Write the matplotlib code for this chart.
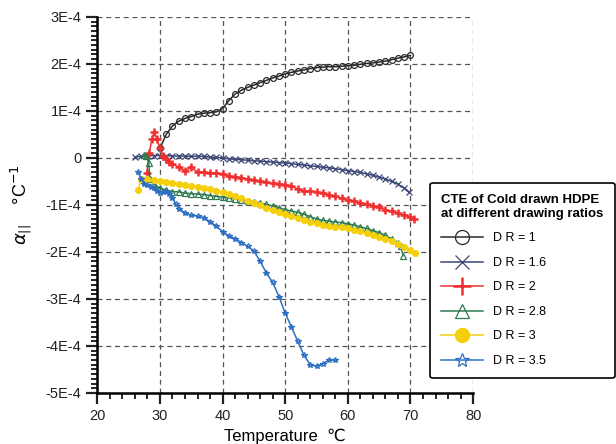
#!/usr/bin/env python3
import matplotlib
matplotlib.use("Agg")
import matplotlib.pyplot as plt
from matplotlib.ticker import MultipleLocator, FuncFormatter
import numpy as np

plt.rcParams["font.family"] = ["Liberation Sans", "DejaVu Sans"]

# values in units of 1E-4 per degC
t_dr1 = [30, 31, 32, 33, 34, 35, 36, 37, 38, 39, 40, 41, 42, 43, 44, 45, 46, 47, 48, 49,
         50, 51, 52, 53, 54, 55, 56, 57, 58, 59, 60, 61, 62, 63, 64, 65, 66, 67, 68, 69, 70]
a_dr1 = [0.2, 0.5, 0.68, 0.78, 0.84, 0.88, 0.93, 0.95, 0.96, 0.98, 1.05, 1.22, 1.36, 1.44,
         1.5, 1.55, 1.6, 1.65, 1.7, 1.74, 1.79, 1.82, 1.85, 1.87, 1.9, 1.92, 1.93, 1.94,
         1.94, 1.95, 1.96, 1.97, 1.99, 2.01, 2.02, 2.04, 2.06, 2.09, 2.12, 2.15, 2.18]

t_dr16 = [26, 27, 28, 29, 30, 31, 32, 33, 34, 35, 36, 37, 38, 39, 40, 41, 42, 43, 44, 45,
          46, 47, 48, 49, 50, 51, 52, 53, 54, 55, 56, 57, 58, 59, 60, 61, 62, 63, 64, 65,
          66, 67, 68, 69, 69.7]
a_dr16 = [0.02, 0.03, 0.05, 0.05, 0.05, 0.05, 0.04, 0.04, 0.04, 0.03, 0.04, 0.03, 0.02,
          0.01, 0.0, -0.02, -0.03, -0.04, -0.05, -0.06, -0.07, -0.08, -0.09, -0.1, -0.11,
          -0.12, -0.14, -0.15, -0.17, -0.18, -0.2, -0.21, -0.23, -0.25, -0.27, -0.29,
          -0.31, -0.34, -0.37, -0.41, -0.45, -0.5, -0.56, -0.64, -0.72]

t_dr2 = [27.9, 28.3, 28.7, 29.1, 29.5, 30, 30.5, 31, 31.5, 32, 33, 34, 35, 36, 37, 38, 39,
         40, 41, 42, 43, 44, 45, 46, 47, 48, 49, 50, 51, 52, 53, 54, 55, 56, 57, 58, 59,
         60, 61, 62, 63, 64, 65, 66, 67, 68, 69, 70, 70.6]
a_dr2 = [-0.32, 0.1, 0.4, 0.55, 0.4, 0.2, 0.05, -0.02, -0.08, -0.12, -0.2, -0.28, -0.2,
         -0.3, -0.3, -0.33, -0.32, -0.34, -0.38, -0.4, -0.42, -0.45, -0.47, -0.5, -0.52,
         -0.54, -0.55, -0.57, -0.6, -0.66, -0.7, -0.71, -0.72, -0.75, -0.79, -0.82, -0.86,
         -0.89, -0.92, -0.95, -0.98, -1.02, -1.05, -1.1, -1.14, -1.18, -1.22, -1.25, -1.29]

t_dr28 = [27.4, 27.8, 28.2, 28.4, 29, 30, 31, 32, 33, 34, 35, 36, 37, 38, 39, 40, 41, 42,
          43, 44, 45, 46, 47, 48, 49, 50, 51, 52, 53, 54, 55, 56, 57, 58, 59, 60, 61, 62,
          63, 64, 65, 66, 67, 68, 68.5, 68.8]
a_dr28 = [0.06, 0.04, -0.1, -0.45, -0.55, -0.65, -0.68, -0.72, -0.72, -0.75, -0.76, -0.77,
          -0.78, -0.8, -0.82, -0.83, -0.85, -0.87, -0.89, -0.91, -0.93, -0.96, -0.99,
          -1.02, -1.06, -1.1, -1.13, -1.16, -1.2, -1.25, -1.3, -1.33, -1.35, -1.36, -1.38,
          -1.4, -1.43, -1.47, -1.5, -1.55, -1.59, -1.65, -1.72, -1.8, -1.88, -2.08]

t_dr3 = [26.5, 27, 28, 29, 30, 31, 32, 33, 34, 35, 36, 37, 38, 39, 40, 41, 42, 43, 44, 45,
         46, 47, 48, 49, 50, 51, 52, 53, 54, 55, 56, 57, 58, 59, 60, 61, 62, 63, 64, 65,
         66, 67, 68, 69, 70, 70.8]
a_dr3 = [-0.68, -0.45, -0.45, -0.47, -0.49, -0.51, -0.53, -0.55, -0.57, -0.59, -0.62,
         -0.64, -0.67, -0.7, -0.73, -0.77, -0.81, -0.86, -0.91, -0.96, -1.01, -1.06,
         -1.11, -1.16, -1.2, -1.24, -1.28, -1.32, -1.36, -1.39, -1.42, -1.44, -1.46,
         -1.48, -1.5, -1.53, -1.56, -1.6, -1.64, -1.68, -1.72, -1.77, -1.83, -1.9, -1.96,
         -2.02]

t_dr35 = [26.5, 27, 27.5, 28, 28.5, 29, 29.5, 30, 30.5, 31, 31.5, 32, 32.5, 33, 34, 35,
          36, 37, 38, 39, 40, 41, 42, 43, 44, 45, 46, 47, 48, 49, 50, 51, 52, 53, 54, 55,
          56, 57, 58]
a_dr35 = [-0.3, -0.45, -0.55, -0.58, -0.62, -0.64, -0.7, -0.75, -0.73, -0.7, -0.76, -0.85,
          -0.98, -1.08, -1.17, -1.22, -1.24, -1.27, -1.36, -1.45, -1.57, -1.66, -1.72,
          -1.8, -1.88, -1.98, -2.2, -2.45, -2.65, -2.95, -3.3, -3.6, -3.9, -4.2, -4.4,
          -4.43, -4.38, -4.3, -4.3]

series = [
    (t_dr1, a_dr1, "D R = 1", "#2a2a2a", "o", "none"),
    (t_dr16, a_dr16, "D R = 1.6", "#3b4775", "x", "#3b4775"),
    (t_dr2, a_dr2, "D R = 2", "#f03030", "+", "#f03030"),
    (t_dr28, a_dr28, "D R = 2.8", "#2f7a4e", "^", "none"),
    (t_dr3, a_dr3, "D R = 3", "#f4cf0a", "o", "#f4cf0a"),
    (t_dr35, a_dr35, "D R = 3.5", "#2c6fc2", "*", "none"),
]

fig = plt.figure(figsize=(6.16, 4.44), dpi=100)
ax = fig.add_axes([0.158, 0.115, 0.61, 0.847])

for t, a, lab, c, m, fc in series:
    mew = 1.8 if m == "+" else 0.9
    ms = 5.5 if m == "+" else 4.2
    ax.plot(t, np.array(a) * 1e-4, color=c, lw=1.1, marker=m, ms=ms,
            mfc=fc, mec=c, mew=mew, label=lab)

ax.set_xlim(20, 80)
ax.set_ylim(-5e-4, 3e-4)
ax.xaxis.set_major_locator(MultipleLocator(10))
ax.xaxis.set_minor_locator(MultipleLocator(2))
ax.yaxis.set_major_locator(MultipleLocator(1e-4))
ax.yaxis.set_minor_locator(MultipleLocator(1e-5))
ax.yaxis.set_major_formatter(FuncFormatter(
    lambda v, p: "0" if abs(v) < 1e-9 else "%dE-4" % round(v * 1e4)))

for s in ["top", "right"]:
    ax.spines[s].set_visible(False)
for s in ["left", "bottom"]:
    ax.spines[s].set_linewidth(1.8)
ax.tick_params(which="major", length=8, width=1.6, labelsize=10.5, colors="#222222")
ax.tick_params(which="minor", length=4, width=1.2)
ax.grid(True, which="major", ls=(0, (4, 3)), color="#555555", lw=0.9)

ax.set_xlabel("Temperature  \u2103", fontsize=12, labelpad=4)
ax.set_ylabel(r"$\alpha_{||}$    °C$^{-1}$", fontsize=13, labelpad=8)

leg = fig.legend(loc="upper right", bbox_to_anchor=(0.998, 0.588), fontsize=9,
                 title="CTE of Cold drawn HDPE\nat different drawing ratios",
                 title_fontproperties={"weight": "bold", "size": 9.5},
                 alignment="left", handlelength=3.3, markerscale=2.4,
                 frameon=True, fancybox=True, edgecolor="black", framealpha=1,
                 labelspacing=1.0, borderpad=0.9, borderaxespad=0)
leg.get_frame().set_linewidth(1.2)

fig.savefig("out.png", dpi=100)
